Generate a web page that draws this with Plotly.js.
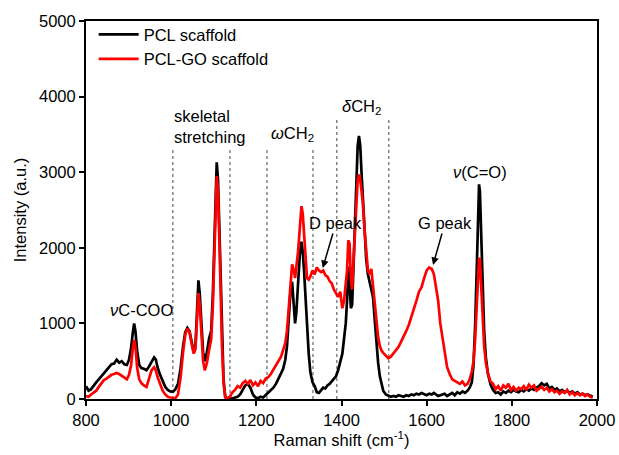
<!DOCTYPE html>
<html>
<head>
<meta charset="utf-8">
<script src="https://cdn.plot.ly/plotly-3.0.1.min.js"></script>
<style>html,body{margin:0;padding:0;background:#fff}#chart{width:619px;height:455px}</style>
</head>
<body>
<div id="chart"></div>
<script>
const ramanShift = [800,806,812,818,824,830,836,842,848,854,860,866,872,878,884,890,896,901,906,910,913,916,920,925,930,936,942,948,954,960,964,968,974,980,986,992,998,1004,1010,1016,1022,1028,1033,1038,1043,1048,1053,1057,1061,1064,1067,1071,1075,1079,1084,1089,1094,1098,1102,1105,1107,1110,1113,1116,1119,1123,1127,1132,1138,1144,1150,1156,1162,1168,1174,1180,1186,1192,1198,1204,1210,1216,1222,1228,1234,1240,1246,1252,1258,1263,1268,1272,1276,1280,1284,1288,1291,1294,1298,1302,1306,1309,1312,1315,1319,1323,1327,1332,1337,1342,1347,1352,1357,1362,1367,1372,1377,1382,1387,1392,1397,1402,1406,1410,1413,1416,1419,1422,1425,1428,1432,1435,1438,1441,1444,1447,1450,1454,1458,1462,1466,1470,1474,1478,1482,1486,1490,1494,1498,1504,1510,1516,1522,1528,1534,1540,1546,1552,1558,1564,1570,1576,1582,1588,1594,1600,1606,1612,1617,1622,1627,1632,1637,1642,1648,1654,1660,1666,1672,1678,1684,1690,1696,1701,1706,1710,1714,1718,1721,1723,1725,1728,1731,1735,1739,1744,1750,1756,1762,1768,1774,1780,1786,1792,1798,1804,1810,1816,1822,1828,1834,1840,1846,1852,1858,1864,1870,1876,1882,1888,1894,1900,1906,1912,1918,1924,1930,1936,1942,1948,1954,1960,1966,1972,1978,1984,1990];

const pclScaffold = [170,110,130,180,220,260,300,350,390,430,460,470,520,480,500,460,450,520,680,880,1000,900,640,450,410,400,380,430,500,550,520,420,320,230,160,120,100,95,130,200,400,700,880,940,900,760,620,700,1200,1570,1400,1000,620,500,620,800,900,1400,2300,2950,3130,2900,2300,1600,800,250,30,10,0,10,20,30,60,130,180,200,150,60,20,10,30,20,50,80,110,150,200,260,340,400,520,700,1000,1400,1550,1250,1000,1150,1600,1900,2080,1950,1700,1350,950,600,350,220,170,90,80,120,150,140,180,200,230,270,300,380,480,600,800,1000,1300,1750,1500,1200,1250,1700,2300,2900,3350,3480,3350,3000,2700,2200,1850,1650,1550,1450,1350,1050,750,480,300,180,110,60,40,30,40,30,50,40,30,50,40,60,50,70,60,80,70,50,70,60,80,60,40,50,60,70,40,60,80,50,90,70,100,80,110,150,220,450,1000,1800,2500,2840,2750,2200,1600,900,550,330,190,120,80,90,60,100,80,110,90,120,100,90,120,100,130,110,140,120,150,170,210,180,200,140,160,120,140,100,120,90,110,80,100,70,90,60,70,50,60,40,30];

const pclGoScaffold = [40,30,60,80,110,160,210,250,270,300,320,330,345,330,310,290,260,320,450,680,780,700,420,260,210,180,160,270,380,420,380,290,190,110,60,30,20,15,10,60,280,620,850,930,890,730,600,660,1050,1400,1250,900,500,380,480,650,790,1250,2100,2800,2950,2750,2200,1500,750,220,20,10,30,90,120,170,150,210,240,200,250,180,220,170,240,210,270,290,330,390,450,500,560,650,740,900,1200,1550,1780,1700,1600,1750,1950,2250,2550,2450,2200,1900,1600,1580,1620,1700,1650,1740,1700,1680,1700,1640,1620,1560,1530,1450,1400,1350,1420,1200,1300,1500,1700,2100,2050,1600,1450,1800,2250,2650,2900,2970,2900,2750,2600,2250,1950,1700,1650,1720,1500,1250,1000,820,700,640,610,580,540,560,600,640,690,760,820,900,980,1080,1180,1300,1420,1480,1600,1700,1740,1720,1650,1480,1300,1000,800,600,420,330,260,240,220,200,230,180,200,260,360,500,800,1300,1700,1860,1850,1500,1100,700,480,340,230,200,130,170,110,180,150,200,120,160,110,150,130,170,120,190,150,180,110,140,160,120,150,100,130,90,110,70,100,80,120,60,90,50,80,50,70,40,60,30,20];

const seriesNames = ["PCL scaffold", "PCL-GO scaffold"];
const seriesColors = ["#000000", "#ff0000"];
const xTicks = [800,1000,1200,1400,1600,1800,2000];
const yTicks = [0,1000,2000,3000,4000,5000];

// vertical dotted markers: [x, top]
const dividers = [[1004,3300],[1138,3300],[1225,3300],[1333,3300],[1389,3700],[1511,3700]];

const labels = [
  {text:"<i>ν</i>C-COO", x:931, y:1180},
  {text:"skeletal<br>stretching", x:1002, y:3600, left:true},
  {text:"<i>ω</i>CH<sub>2</sub>", x:1284, y:3500},
  {text:"<i>δ</i>CH<sub>2</sub>", x:1448, y:3860},
  {text:"<i>ν</i>(C=O)", x:1725, y:3003}
];
const arrowLabels = [
  {text:"D peak", x:1356, y:1733, tx:1387, ty:2328},
  {text:"G peak", x:1615, y:1773, tx:1643, ty:2328}
];

const font = {family:"Liberation Sans, Arial, sans-serif", size:16.5, color:"#000"};

const traces = [
  {x:ramanShift, y:pclScaffold, name:seriesNames[0], type:"scatter", mode:"lines", line:{color:seriesColors[0], width:2.7}},
  {x:ramanShift, y:pclGoScaffold, name:seriesNames[1], type:"scatter", mode:"lines", line:{color:seriesColors[1], width:2.7}}
];

const shapes = dividers.map(d => ({type:"line", xref:"x", yref:"y", x0:d[0], x1:d[0], y0:0, y1:d[1], line:{color:"#666", width:1.2, dash:"dot"}, layer:"below"}));

const annotations = labels.map(l => ({text:l.text, x:l.x, y:l.y, xref:"x", yref:"y", showarrow:false, font:font, xanchor:l.left?"left":"center", yanchor:"middle", align:"left"}));
arrowLabels.forEach(a => {
  annotations.push({text:a.text, x:a.x, y:a.y, xref:"x", yref:"y", axref:"x", ayref:"y", ax:a.tx, ay:a.ty, showarrow:true, arrowhead:2, arrowsize:1, arrowwidth:1.5, arrowcolor:"#000", standoff:0, font:font});
});

const axisCommon = {showline:true, linecolor:"#000", linewidth:2, mirror:true, ticks:"outside", ticklen:5, tickwidth:2, tickcolor:"#000", showgrid:false, zeroline:false, tickfont:font};

const layout = {
  width:619, height:455,
  margin:{l:86, r:22, t:21, b:56},
  paper_bgcolor:"#fff", plot_bgcolor:"#fff",
  font:font,
  showlegend:true,
  legend:{x:0.015, y:1.01, xanchor:"left", yanchor:"top", bgcolor:"rgba(0,0,0,0)", font:font, tracegroupgap:0, itemwidth:40},
  xaxis:Object.assign({}, axisCommon, {range:[800,2000], tickvals:xTicks, ticktext:xTicks.map(String), title:{text:"Raman shift (cm<sup>-1</sup>)", font:font, standoff:2}}),
  yaxis:Object.assign({}, axisCommon, {range:[0,5000], tickvals:yTicks, ticktext:yTicks.map(String), title:{text:"Intensity (a.u.)", font:font, standoff:8}}),
  shapes:shapes,
  annotations:annotations
};

Plotly.newPlot("chart", traces, layout, {displayModeBar:false, staticPlot:true});
</script>
</body>
</html>
